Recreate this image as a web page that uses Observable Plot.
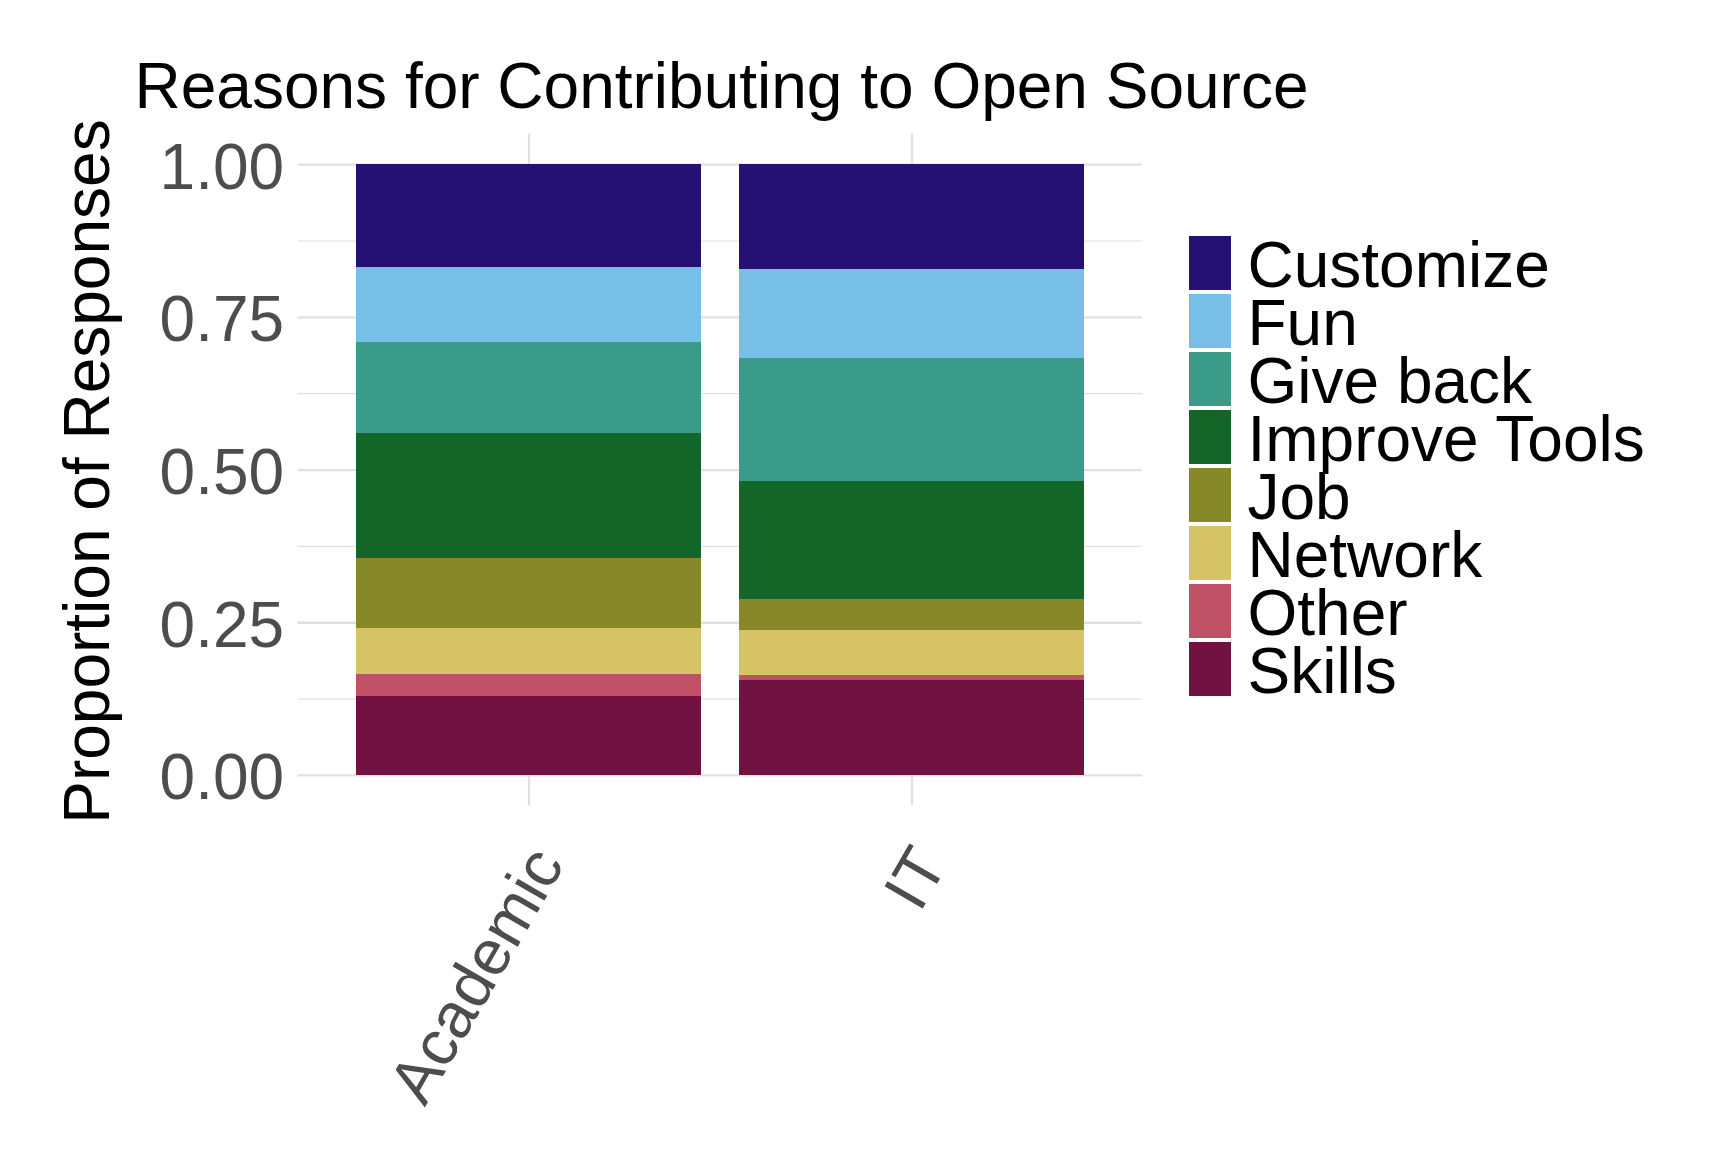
<!DOCTYPE html>
<html><head><meta charset="utf-8">
<script src="https://cdn.jsdelivr.net/npm/d3@7"></script>
<script src="https://cdn.jsdelivr.net/npm/@observablehq/plot@0.6"></script>
<style>
body{margin:0;background:#fff;}
#wrap{position:relative;width:1728px;height:1152px;font-family:"Liberation Sans",Arial,Helvetica,sans-serif;}
#wrap > svg{position:absolute;left:0;top:0;}
#legend{position:absolute;left:1189px;top:234.7px;}
</style></head><body><div id="wrap"><div id="legend"></div></div>
<script>
const groups = ["Academic", "IT"];
const reasons = ["Customize", "Fun", "Give back", "Improve Tools", "Job", "Network", "Other", "Skills"];
const colors = ["#251173", "#78BFE8", "#3A9C88", "#146628", "#878828", "#D6C366", "#BF5066", "#711242"];
const academic = [0.168, 0.123, 0.149, 0.205, 0.115, 0.074, 0.036, 0.130];
const itValues = [0.171, 0.147, 0.201, 0.193, 0.051, 0.074, 0.008, 0.155];
const yTicks = [0, 0.25, 0.5, 0.75, 1];
const yMinor = [0.125, 0.375, 0.625, 0.875];
const title = "Reasons for Contributing to Open Source";
const yLabel = "Proportion of Responses";

const rows = [];
reasons.forEach((r, i) => {
  rows.push({group: "Academic", reason: r, value: academic[i]});
  rows.push({group: "IT", reason: r, value: itValues[i]});
});

const W = 1728, H = 1152, mL = 297.6, mR = 586.2, mT = 133.6, mB = 346.5;
const font = "Liberation Sans, Arial, Helvetica, sans-serif";
const grid = "#E0E0E0";

const chart = Plot.plot({
  width: W, height: H, marginLeft: mL, marginRight: mR, marginTop: mT, marginBottom: mB,
  style: {fontFamily: font, background: "white", overflow: "visible"},
  x: {type: "band", domain: groups, paddingInner: 0.1, paddingOuter: 0.15, axis: null},
  y: {domain: [-0.05, 1.05], axis: null},
  color: {domain: reasons, range: colors},
  marks: [
    Plot.ruleY(yMinor, {stroke: grid, strokeWidth: 1.2}),
    Plot.ruleY(yTicks, {stroke: grid, strokeWidth: 2.3}),
    Plot.ruleX(groups, {x: d => d, y1: -0.05, y2: 1.05, stroke: grid, strokeWidth: 2.3}),
    Plot.barY(rows, Plot.stackY({x: "group", y: "value", fill: "reason", order: reasons.slice().reverse(), offset: "normalize", shapeRendering: "crispEdges"})),
    Plot.text(yTicks, {y: d => d, text: d => d.toFixed(2), frameAnchor: "left", textAnchor: "end", lineAnchor: "middle", dx: -14, dy: 3.5, fill: "#4D4D4D", fontSize: 64}),
    Plot.text(groups, {x: d => d, text: d => d, frameAnchor: "bottom", textAnchor: "end", lineAnchor: "middle", rotate: -60, dx: 18.5, dy: 48, fill: "#4D4D4D", fontSize: 64}),
    Plot.text([title], {frameAnchor: "top-left", textAnchor: "start", lineAnchor: "bottom", dx: 134 - mL, dy: 107 - mT, fill: "black", fontSize: 64}),
    Plot.text([yLabel], {frameAnchor: "left", textAnchor: "middle", lineAnchor: "bottom", rotate: -90, dx: 108.3 - mL, dy: 1.5, fill: "black", fontSize: 64})
  ]
});
document.getElementById("wrap").prepend(chart);

const legend = Plot.plot({
  width: 539, height: 463, margin: 0,
  style: {fontFamily: font, background: "transparent", overflow: "visible"},
  x: {type: "band", domain: ["key"], range: [0, 42], padding: 0, axis: null},
  y: {type: "band", domain: reasons, range: [0, 463], paddingInner: 0.068, paddingOuter: 0, axis: null},
  color: {domain: reasons, range: colors},
  marks: [
    Plot.cell(reasons, {x: () => "key", y: d => d, fill: d => d}),
    Plot.text(reasons, {y: d => d, text: d => d, frameAnchor: "left", textAnchor: "start", lineAnchor: "middle", dx: 58, dy: 3, fill: "black", fontSize: 64})
  ]
});
document.getElementById("legend").appendChild(legend);
</script>
</body></html>
